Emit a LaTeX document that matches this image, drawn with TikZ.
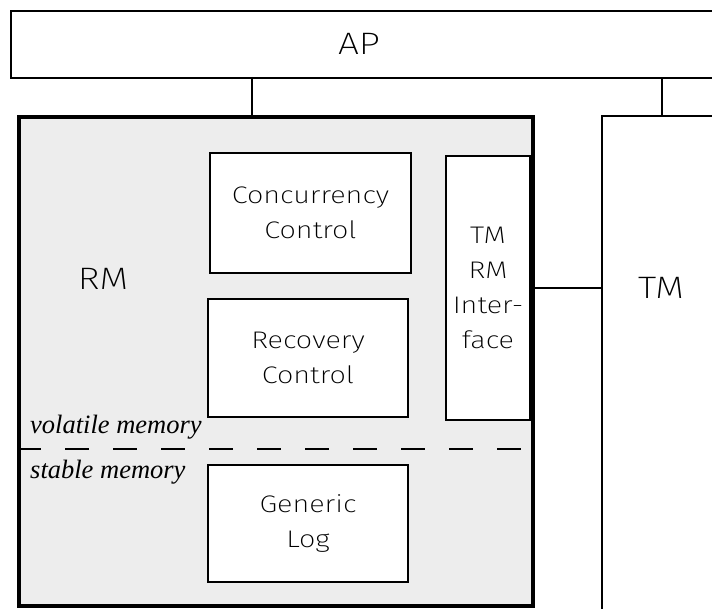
\documentclass[tikz,border=0pt]{standalone}
\usepackage{fontspec}
\setmainfont{Liberation Serif}
% wide, thin sans for the block labels: lightest face available
\IfFontExistsTF{Fira Sans ExtraLight}
  {\newfontfamily\plotfont{Fira Sans ExtraLight}[FakeStretch=1.2]}
  {\IfFontExistsTF{Fira Sans Light}
    {\newfontfamily\plotfont{Fira Sans Light}[FakeStretch=1.2]}
    {\IfFontExistsTF{Open Sans Light}
      {\newfontfamily\plotfont{Open Sans Light}[FakeStretch=1.1]}
      {\IfFontExistsTF{Lato Light}
        {\newfontfamily\plotfont{Lato Light}[FakeStretch=1.2]}
        {\newfontfamily\plotfont{lmsans10-regular.otf}[FakeStretch=1.3]}}}}
\begin{document}
\begin{tikzpicture}[x=1pt,y=1pt,
  box/.style={draw, line width=2pt, fill=white, inner sep=0pt, anchor=north west},
  lbl/.style={font=\plotfont\fontsize{24}{35}\selectfont, align=center, inner sep=0pt},
  big/.style={font=\plotfont\fontsize{31}{35}\selectfont, inner sep=0pt},
  mem/.style={font=\itshape\fontsize{26.5}{30}\selectfont, anchor=base west, inner sep=0pt},
  wire/.style={line width=2pt}]
\useasboundingbox (0,0) rectangle (712,-609);
\clip (0,0) rectangle (712,-609);

% application program and transaction manager (both run past the page edge)
\node[box, minimum width=720, minimum height=67] (ap) at (10,-10) {};
\node[big] (aplbl) at (359,-44) {AP};
\node[box, minimum width=120, minimum height=560] (tm) at (601,-115) {};
\node[big] (tmlbl) at (661,-288) {TM};

% resource manager
\node[draw, line width=4pt, fill=black!7, inner sep=0pt, anchor=north west,
      minimum width=514, minimum height=489] (rm) at (17,-115) {};
\node[big] (rmlbl) at (103,-279) {RM};

% components inside the resource manager
\node[box, minimum width=201, minimum height=120] (cc) at (209,-152) {};
\node[lbl] at (cc.center) {Concurrency\\Control};
\node[box, minimum width=200, minimum height=118] (rc) at (207,-298) {};
\node[lbl] at (rc.center) {Recovery\\Control};
\node[box, minimum width=84, minimum height=264] (ifc) at (445,-155) {};
\node[lbl] at (ifc.center) {TM\\RM\\Inter-\\face};
\node[box, minimum width=200, minimum height=117] (log) at (207,-464) {};
\node[lbl] at (log.center) {Generic\\Log};

% boundary between volatile and stable memory
\coordinate (split) at (0,-449);
\draw[line width=2.5pt, dash pattern=on 24pt off 24pt]
  (rm.west |- split) -- (rm.east |- split);
\node[mem] (vol) at (30,-433) {volatile memory};
\node[mem] (stb) at (30,-478) {stable memory};

% connections
\coordinate (aprm) at (252,-77);
\draw[wire] (aprm) -- (aprm |- rm.north);
\draw[wire] (tm.north |- ap.south) -- (tm.north);
\draw[wire] (rm.east |- tmlbl) -- (tm.west |- tmlbl);
\end{tikzpicture}
\end{document}
